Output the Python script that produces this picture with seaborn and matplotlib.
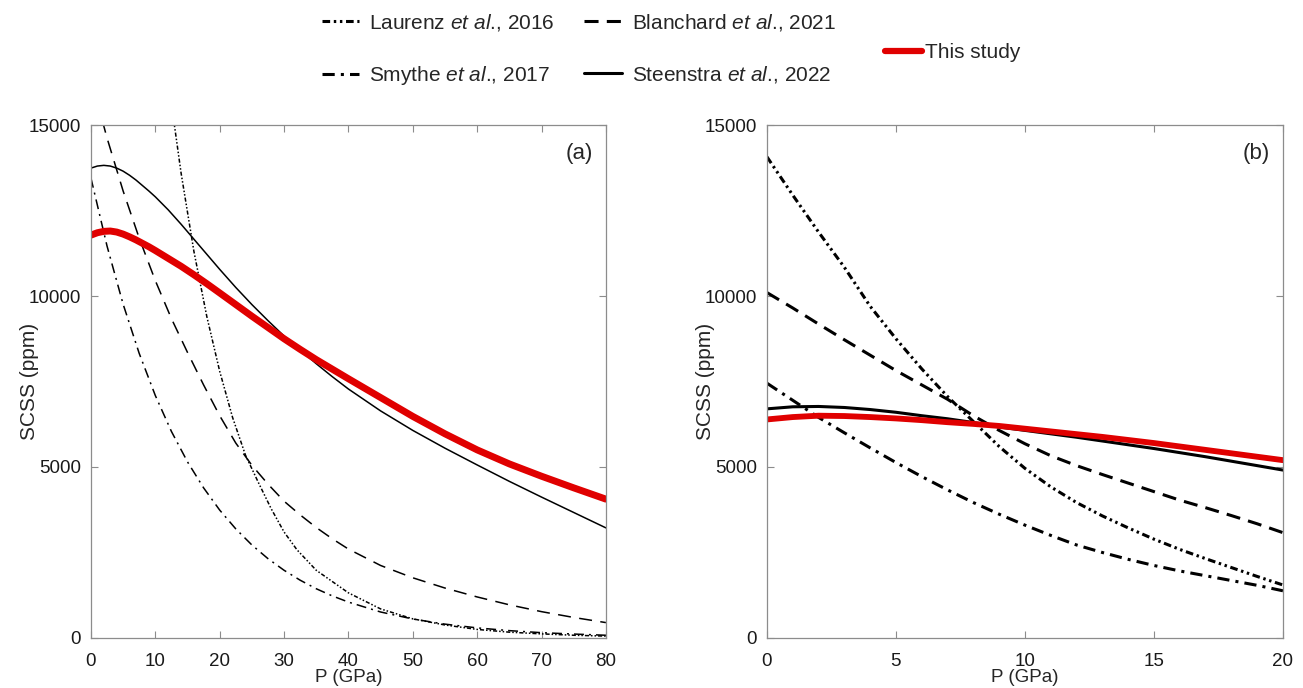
import matplotlib
matplotlib.use("Agg")
import matplotlib.pyplot as plt
from matplotlib.lines import Line2D
import numpy as np
import pandas as pd
import seaborn as sns

# ---- panel (a): 0-80 GPa ----
a_p_main = [0, 1, 2, 3, 4, 5, 6, 7, 8, 9, 10, 12, 14, 16, 18, 20, 22.5, 25, 27.5, 30, 32.5,
            35, 37.5, 40, 45, 50, 55, 60, 65, 70, 75, 80]
a_this_study = [11780, 11850, 11890, 11900, 11870, 11810, 11730, 11640, 11540, 11440, 11330,
                11100, 10870, 10620, 10360, 10090, 9750, 9410, 9080, 8750, 8440, 8140, 7860,
                7580, 7030, 6480, 5970, 5500, 5090, 4730, 4390, 4060]
a_steenstra = [13740, 13800, 13820, 13800, 13740, 13650, 13530, 13390, 13230, 13070, 12900,
               12520, 12100, 11660, 11220, 10780, 10250, 9750, 9280, 8830, 8420, 8020, 7640,
               7280, 6640, 6070, 5550, 5060, 4580, 4120, 3670, 3220]

a_p_exp = [0, 2.5, 5, 7.5, 10, 12.5, 15, 17.5, 20, 22.5, 25, 27.5, 30, 32.5, 35, 37.5, 40,
           45, 50, 55, 60, 65, 70, 75, 80]
a_smythe = [13450, 11460, 9760, 8320, 7090, 6040, 5150, 4390, 3740, 3190, 2720, 2320, 1980,
            1690, 1440, 1230, 1050, 760, 555, 405, 295, 215, 155, 115, 80]
a_blanchard = [16350, 14620, 13070, 11690, 10450, 9340, 8350, 7400, 6500, 5700, 5050, 4500,
               4000, 3600, 3230, 2900, 2600, 2120, 1760, 1460, 1200, 970, 770, 600, 450]

a_p_laurenz = [12, 14, 16, 18, 20, 22, 24, 26, 28, 30, 32, 35, 40, 45, 50, 55, 60, 65, 70, 75, 80]
a_laurenz = [16300, 13600, 11300, 9400, 7800, 6450, 5350, 4550, 3780, 3100, 2580, 1980, 1320,
             850, 560, 380, 250, 170, 120, 80, 55]

# ---- panel (b): 0-20 GPa ----
b_p = list(range(0, 21))
b_this_study = [6390, 6460, 6500, 6490, 6460, 6420, 6370, 6310, 6260, 6200, 6120, 6040, 5960,
                5880, 5790, 5700, 5600, 5500, 5400, 5300, 5200]
b_steenstra = [6700, 6760, 6770, 6740, 6680, 6600, 6500, 6410, 6300, 6170, 6070, 5970, 5870,
               5760, 5650, 5540, 5420, 5300, 5170, 5040, 4910]
b_blanchard = [10100, 9650, 9180, 8720, 8270, 7820, 7400, 6980, 6500, 6070, 5680, 5330, 5040,
               4780, 4530, 4280, 4030, 3810, 3580, 3340, 3080]
b_laurenz = [14070, 12950, 11870, 10840, 9700, 8750, 7870, 7060, 6330, 5600, 4960, 4420, 3960,
             3570, 3220, 2890, 2590, 2320, 2060, 1800, 1550]
b_smythe = [7450, 6950, 6450, 6000, 5560, 5130, 4720, 4330, 3960, 3620, 3300, 3000, 2720,
            2500, 2300, 2120, 1960, 1820, 1680, 1540, 1380]

labels = {
    "laurenz": r"Laurenz $\mathit{et\ al}$., 2016",
    "smythe": r"Smythe $\mathit{et\ al}$., 2017",
    "blanchard": r"Blanchard $\mathit{et\ al}$., 2021",
    "steenstra": r"Steenstra $\mathit{et\ al}$., 2022",
    "this": "This study",
}

RED = "#e00000"
sns.set_style("ticks")
plt.rcParams["font.family"] = ["Liberation Sans", "DejaVu Sans"]
plt.rcParams["mathtext.fontset"] = "custom"
plt.rcParams["mathtext.rm"] = "Liberation Sans"
plt.rcParams["mathtext.it"] = "Liberation Sans:italic"

fig = plt.figure(figsize=(13.03, 6.88), dpi=100)
ax1 = fig.add_axes([0.0698, 0.0727, 0.3952, 0.7456])
ax2 = fig.add_axes([0.5886, 0.0727, 0.3960, 0.7456])

# dash patterns (thin lines in (a), thick in (b))
thin = {"dash": (0, (8.5, 5.5)), "dashdot": (0, (6.5, 3.3, 1.3, 3.3)),
        "dashdotdot": (0, (2.7, 1.3, 1.0, 1.3, 1.0, 1.3))}
thick = {"dash": (0, (4.6, 2.7)), "dashdot": (0, (4.0, 2.0, 1.0, 2.0)),
         "dashdotdot": (0, (2.5, 1.2, 0.8, 1.2, 0.8, 1.2))}


def line(ax, x, y, ls, lw, color="k"):
    df = pd.DataFrame({"P": x, "SCSS": y})
    sns.lineplot(data=df, x="P", y="SCSS", ax=ax, color=color, linewidth=lw,
                 linestyle=ls, legend=False)


line(ax1, a_p_laurenz, a_laurenz, thin["dashdotdot"], 1.1)
line(ax1, a_p_exp, a_smythe, thin["dashdot"], 1.1)
line(ax1, a_p_exp, a_blanchard, thin["dash"], 1.1)
line(ax1, a_p_main, a_steenstra, "-", 1.1)
line(ax1, a_p_main, a_this_study, "-", 5, RED)

line(ax2, b_p, b_laurenz, thick["dashdotdot"], 2.2)
line(ax2, b_p, b_smythe, thick["dashdot"], 2.2)
line(ax2, b_p, b_blanchard, thick["dash"], 2.2)
line(ax2, b_p, b_steenstra, "-", 2.2)
line(ax2, b_p, b_this_study, "-", 4.2, RED)

for ax, xmax, xticks, tag in [(ax1, 80, range(0, 81, 10), "(a)"),
                              (ax2, 20, range(0, 21, 5), "(b)")]:
    ax.set_xlim(0, xmax)
    ax.set_ylim(0, 15000)
    ax.set_xticks(list(xticks))
    ax.set_yticks([0, 5000, 10000, 15000])
    for s in ax.spines.values():
        s.set_visible(True)
        s.set_color("#8c8c8c")
        s.set_linewidth(0.9)
    ax.tick_params(direction="in", top=True, right=True, length=5, width=0.8,
                   color="#8c8c8c", labelsize=13.5, labelcolor="#1a1a1a")
    ax.tick_params(axis="x", pad=11)
    ax.tick_params(axis="y", pad=7)
    ax.set_xlabel("P (GPa)", fontsize=13.5, labelpad=-1)
    ax.set_ylabel("SCSS (ppm)", fontsize=15)
    ax.yaxis.set_label_coords(-0.101, 0.5)
    ax.text(0.975, 0.945, tag, transform=ax.transAxes, ha="right", va="center", fontsize=16)

h = {
    "laurenz": Line2D([], [], color="k", lw=2.2, linestyle=thick["dashdotdot"]),
    "smythe": Line2D([], [], color="k", lw=2.2, linestyle=thick["dashdot"]),
    "blanchard": Line2D([], [], color="k", lw=2.2, linestyle=thick["dash"]),
    "steenstra": Line2D([], [], color="k", lw=2.2),
    "this": Line2D([], [], color=RED, lw=4.5),
}
order = ["laurenz", "smythe", "blanchard", "steenstra"]
fig.legend([h[k] for k in order], [labels[k] for k in order], ncol=2,
           loc="upper left", bbox_to_anchor=(0.247, 0.983), frameon=False,
           borderaxespad=0, borderpad=0, fontsize=15, handlelength=1.8,
           handletextpad=0.47, labelspacing=1.5, columnspacing=1.42)
fig.legend([h["this"]], [labels["this"]], loc="upper left",
           bbox_to_anchor=(0.679, 0.937), frameon=False, borderaxespad=0,
           borderpad=0, fontsize=15, handlelength=1.8, handletextpad=0.15)

fig.savefig("out.png", dpi=100)
